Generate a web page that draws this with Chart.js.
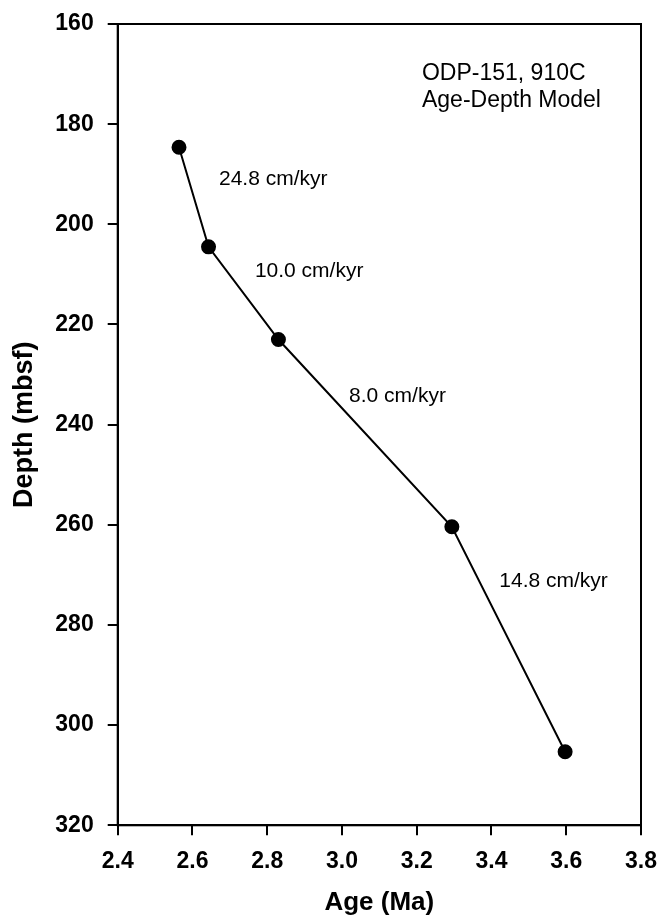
<!DOCTYPE html>
<html>
<head>
<meta charset="utf-8">
<script src="https://cdn.jsdelivr.net/npm/chart.js@4"></script>
<style>
  html, body { margin: 0; padding: 0; background: #fff; }
  #wrap { width: 659px; height: 919px; }
</style>
</head>
<body>
<div id="wrap"><canvas id="chart" width="659" height="919"></canvas></div>
<script>
// sample ages (Ma) and depths (mbsf) of the tie points
const ages = [2.564, 2.643, 2.830, 3.294, 3.597];
const depths = [184.6, 204.5, 223.0, 260.4, 305.3];

// sedimentation rate labels, anchored in data units (left edge, baseline)
const rateLabels = ['24.8 cm/kyr', '10.0 cm/kyr', '8.0 cm/kyr', '14.8 cm/kyr'];
const rateLabelX = [2.671, 2.767, 3.019, 3.421];
const rateLabelY = [192.2, 210.5, 235.4, 272.4];

const titleLines = ['ODP-151, 910C', 'Age-Depth Model'];
const titleX = 3.214;
const titleY = [171.2, 176.6];

const FONT = "Arial, 'Liberation Sans', sans-serif";

const frameAndTextPlugin = {
    id: 'frameAndText',
    afterDraw(chart) {
        const { ctx, chartArea, scales } = chart;
        ctx.save();
        ctx.strokeStyle = '#000';
        ctx.lineWidth = 2;
        ctx.strokeRect(chartArea.left, chartArea.top, chartArea.right - chartArea.left, chartArea.bottom - chartArea.top);

        ctx.fillStyle = '#000';
        ctx.textAlign = 'left';
        ctx.textBaseline = 'alphabetic';
        ctx.font = `21px ${FONT}`;
        rateLabels.forEach((txt, i) => {
            ctx.fillText(txt, scales.x.getPixelForValue(rateLabelX[i]), scales.y.getPixelForValue(rateLabelY[i]));
        });

        ctx.font = `23px ${FONT}`;
        titleLines.forEach((txt, i) => {
            ctx.fillText(txt, scales.x.getPixelForValue(titleX), scales.y.getPixelForValue(titleY[i]));
        });
        ctx.restore();
    },
};

new Chart(document.getElementById('chart'), {
    type: 'line',
    data: {
        datasets: [{
            data: ages.map((a, i) => ({ x: a, y: depths[i] })),
            borderColor: '#000',
            borderWidth: 2,
            backgroundColor: '#000',
            pointBackgroundColor: '#000',
            pointBorderColor: '#000',
            pointRadius: 6.5,
            tension: 0,
            fill: false,
        }],
    },
    options: {
        responsive: false,
        animation: false,
        events: [],
        layout: { padding: { top: 24, right: 18, left: 0, bottom: 0 } },
        scales: {
            x: {
                type: 'linear',
                min: 2.4,
                max: 3.8,
                afterFit(scale) {
                    scale.height = 93.7;
                    scale.paddingLeft = 0;
                    scale.paddingRight = 0;
                },
                border: { display: true, color: '#000', width: 2 },
                grid: { drawOnChartArea: false, drawTicks: true, tickLength: 10, color: '#000', lineWidth: 2 },
                ticks: {
                    stepSize: 0.2,
                    padding: 13,
                    color: '#000',
                    font: { family: FONT, size: 23, weight: 'bold' },
                    callback: (v) => v.toFixed(1),
                },
                title: {
                    display: true,
                    text: 'Age (Ma)',
                    color: '#000',
                    font: { family: FONT, size: 26, weight: 'bold' },
                    padding: { top: 0, bottom: 1 },
                },
            },
            y: {
                type: 'linear',
                reverse: true,
                min: 160,
                max: 320,
                afterFit(scale) {
                    scale.width = 117.7;
                    scale.paddingTop = 0;
                    scale.paddingBottom = 0;
                },
                border: { display: true, color: '#000', width: 2 },
                grid: { drawOnChartArea: false, drawTicks: true, tickLength: 10, color: '#000', lineWidth: 2 },
                ticks: {
                    stepSize: 20,
                    padding: 14,
                    color: '#000',
                    font: { family: FONT, size: 23, weight: 'bold' },
                },
                title: {
                    display: true,
                    text: 'Depth (mbsf)',
                    color: '#000',
                    font: { family: FONT, size: 27, weight: 'bold' },
                    padding: { top: 8, bottom: 0 },
                },
            },
        },
        plugins: {
            legend: { display: false },
            tooltip: { enabled: false },
        },
    },
    plugins: [frameAndTextPlugin],
});
</script>
</body>
</html>
